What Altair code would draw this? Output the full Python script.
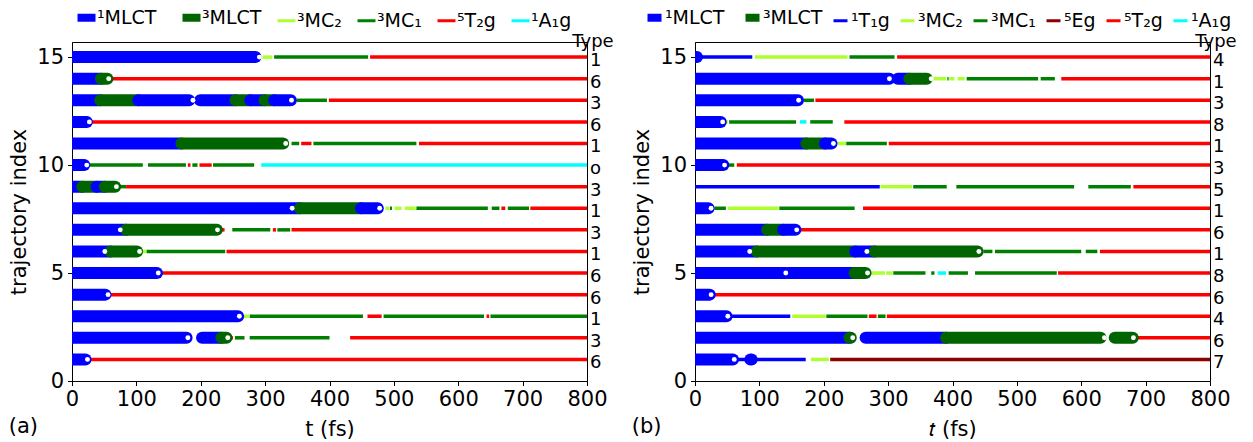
import altair as alt
import pandas as pd

# electronic state codes -> legend label / colour
LABEL = {"1MLCT": "¹MLCT", "3MLCT": "³MLCT", "1T1g": "¹T₁g", "3MC2": "³MC₂",
         "3MC1": "³MC₁", "5Eg": "⁵Eg", "5T2g": "⁵T₂g", "1A1g": "¹A₁g"}
COLOR = {"1MLCT": "#0000ff", "3MLCT": "#006400", "1T1g": "#0000ff", "3MC2": "#adff2f",
         "3MC1": "#008000", "5Eg": "#8b0000", "5T2g": "#ff0000", "1A1g": "#00ffff"}
THICK = ["1MLCT", "3MLCT"]

STATES_A = ["1MLCT", "3MLCT", "3MC2", "3MC1", "5T2g", "1A1g"]
STATES_B = ["1MLCT", "3MLCT", "1T1g", "3MC2", "3MC1", "5Eg", "5T2g", "1A1g"]

# trajectory type, trajectories 1..15
TYPES_A = ["6", "3", "1", "6", "6", "1", "3", "1", "3", "o", "1", "6", "3", "6", "1"]
TYPES_B = ["7", "6", "4", "6", "8", "1", "6", "1", "5", "3", "1", "8", "3", "1", "4"]

# (state, t_start, t_end) in fs for every trajectory
SEG_A = {
    15: [("1MLCT", 0, 285), ("3MC2", 296, 311), ("3MC1", 314, 460), ("5T2g", 463, 800)],
    14: [("1MLCT", 0, 45), ("3MLCT", 45, 55), ("5T2g", 55, 800)],
    13: [("1MLCT", 0, 44), ("3MLCT", 44, 103), ("1MLCT", 103, 182), ("1MLCT", 199, 254),
         ("3MLCT", 254, 277), ("1MLCT", 277, 299), ("3MLCT", 299, 314), ("1MLCT", 314, 340),
         ("3MC1", 349, 396), ("5T2g", 399, 800)],
    12: [("1MLCT", 0, 23), ("5T2g", 23, 800)],
    11: [("1MLCT", 0, 170), ("3MLCT", 170, 328), ("3MC1", 341, 353), ("5T2g", 356, 372),
         ("3MC1", 375, 535), ("5T2g", 539, 800)],
    10: [("1MLCT", 0, 19), ("3MC1", 27, 110), ("3MC1", 118, 177), ("5T2g", 180, 184),
         ("3MC1", 187, 195), ("5T2g", 198, 217), ("3MC1", 219, 283), ("1A1g", 294, 800)],
    9: [("1MLCT", 0, 16), ("3MLCT", 16, 38), ("1MLCT", 38, 51), ("3MLCT", 51, 67),
        ("3MC1", 67, 84), ("5T2g", 84, 800)],
    8: [("1MLCT", 0, 354), ("3MLCT", 354, 449), ("1MLCT", 449, 475), ("3MC2", 487, 493),
        ("3MC1", 494, 497), ("3MC2", 501, 512), ("3MC2", 517, 534), ("3MC1", 535, 646),
        ("3MC1", 652, 664), ("5T2g", 667, 673), ("3MC1", 677, 710), ("5T2g", 712, 800)],
    7: [("1MLCT", 0, 84), ("3MLCT", 84, 225), ("5T2g", 225, 237), ("3MC1", 249, 308),
        ("5T2g", 312, 317), ("3MC1", 319, 339), ("5T2g", 341, 800)],
    6: [("1MLCT", 0, 60), ("3MLCT", 60, 101), ("3MC2", 105, 116), ("3MC1", 116, 238),
        ("5T2g", 240, 800)],
    5: [("1MLCT", 0, 132), ("5T2g", 132, 800)],
    4: [("1MLCT", 0, 52), ("5T2g", 52, 800)],
    3: [("1MLCT", 0, 258), ("3MC2", 263, 275), ("3MC1", 276, 452), ("5T2g", 459, 481),
        ("3MC1", 484, 640), ("5T2g", 644, 648), ("3MC1", 650, 800)],
    2: [("1MLCT", 0, 178), ("1MLCT", 202, 232), ("3MLCT", 232, 240), ("5T2g", 242, 250),
        ("3MC1", 253, 268), ("3MC1", 276, 400), ("5T2g", 432, 800)],
    1: [("1MLCT", 0, 21), ("5T2g", 21, 800)],
}
# hopping points marked with a white dot
HOP_A = {15: [291], 14: [57], 13: [188, 341], 12: [27], 11: [332], 10: [23], 9: [69],
         8: [342, 478], 7: [75, 226], 6: [51, 105], 5: [134], 4: [56], 3: [260],
         2: [180, 242], 1: [24]}

SEG_B = {
    15: [("1MLCT", 1, 3), ("1T1g", 2, 89), ("3MC2", 93, 237), ("3MC1", 240, 310), ("5T2g", 314, 800)],
    14: [("1MLCT", 0, 302), ("1MLCT", 315, 333), ("3MLCT", 333, 360), ("3MC2", 369, 390),
         ("3MC1", 392, 394), ("3MC2", 395, 403), ("3MC2", 408, 419), ("3MC1", 422, 533),
         ("3MC1", 537, 559), ("5T2g", 569, 800)],
    13: [("1MLCT", 0, 160), ("3MC1", 169, 185), ("5T2g", 187, 800)],
    12: [("1MLCT", 0, 40), ("3MC2", 42, 51), ("3MC1", 53, 157), ("1A1g", 163, 173),
         ("3MC1", 179, 214), ("5T2g", 232, 800)],
    11: [("1MLCT", 0, 173), ("3MLCT", 173, 202), ("1MLCT", 202, 212), ("3MC2", 221, 235),
         ("3MC1", 235, 298), ("5T2g", 301, 800)],
    10: [("1MLCT", 0, 44), ("3MC1", 46, 61), ("5T2g", 65, 800)],
    9: [("1T1g", 0, 287), ("3MC2", 288, 337), ("3MC1", 339, 391), ("3MC1", 406, 589),
        ("3MC1", 611, 677), ("5T2g", 681, 800)],
    8: [("1MLCT", 0, 21), ("3MC1", 30, 48), ("3MC2", 51, 130), ("3MC1", 131, 248), ("5T2g", 261, 800)],
    7: [("1MLCT", 0, 112), ("3MLCT", 112, 137), ("1MLCT", 137, 156), ("5T2g", 156, 800)],
    6: [("1MLCT", 0, 96), ("3MLCT", 96, 249), ("1MLCT", 249, 279), ("3MLCT", 279, 439),
        ("3MC1", 448, 462), ("3MC1", 466, 600), ("3MC1", 607, 625), ("5T2g", 629, 800)],
    5: [("1MLCT", 0, 141), ("1MLCT", 145, 248), ("3MLCT", 248, 265), ("3MC2", 274, 295),
        ("3MC2", 297, 307), ("3MC1", 308, 358), ("3MC1", 367, 372), ("1A1g", 377, 390),
        ("3MC1", 394, 424), ("3MC1", 435, 562), ("5T2g", 564, 800)],
    4: [("1MLCT", 0, 23), ("5T2g", 23, 800)],
    3: [("1MLCT", 0, 49), ("1T1g", 54, 148), ("3MC2", 151, 203), ("3MC1", 204, 268),
        ("5T2g", 270, 282), ("3MC1", 284, 296), ("5T2g", 298, 800)],
    2: [("1MLCT", 0, 240), ("3MLCT", 240, 242), ("1MLCT", 265, 390), ("3MLCT", 390, 630),
        ("3MLCT", 652, 680), ("5T2g", 682, 800)],
    1: [("1MLCT", 0, 59), ("1T1g", 58, 172), ("1MLCT", 86, 88), ("3MC2", 180, 208), ("5Eg", 210, 800)],
}
HOP_B = {14: [302, 367], 13: [161], 12: [43], 11: [215], 10: [46], 8: [25], 7: [158],
         6: [85, 267, 441], 5: [141, 268], 4: [25], 3: [51], 2: [245, 636, 681], 1: [61]}

T_MAX = 800
Y_MAX = 15.7
FONT = "DejaVu Sans"
AX_FS = 21      # axis labels / titles
LEG_FS = 19     # legend labels
TYPE_FS = 18    # trajectory type column


def panel(segs, hops, types, codes, xtitle, tag, leg_x, sym_size, lab_off, col_pad):
    seg_df = pd.DataFrame([
        {"traj": k, "state": LABEL[c], "t0": a, "t1": b, "thick": c in THICK}
        for k, v in segs.items() for c, a, b in v
    ])
    dot_df = pd.DataFrame([{"traj": k, "t": t} for k, ts in hops.items() for t in ts])
    typ_df = pd.DataFrame({"traj": list(range(1, 16)), "type": types, "edge": T_MAX})
    head_df = pd.DataFrame({"traj": [Y_MAX], "type": ["Type"], "edge": [T_MAX]})

    xs = alt.Scale(domain=[0, T_MAX], nice=False, zero=False)
    ys = alt.Scale(domain=[0, Y_MAX], nice=False, zero=False)
    xa = alt.Axis(title=xtitle, values=list(range(0, T_MAX + 1, 100)), labelFlush=False)
    ya = alt.Axis(title="trajectory index", values=[0, 5, 10, 15], labelFlush=False)

    def X(f):
        return alt.X(f"{f}:Q", scale=xs, axis=xa)

    def Y(f):
        return alt.Y(f"{f}:Q", scale=ys, axis=ya)

    # legend handles: thick bars for the MLCT states, thin lines for the rest
    thick_test = " || ".join(f"datum.value == '{LABEL[c]}'" for c in THICK)
    legend = alt.Legend(
        title=None, orient="none", legendX=leg_x, legendY=-34, direction="horizontal",
        columns=len(codes), symbolType="stroke", symbolSize=sym_size,
        symbolStrokeWidth=alt.ExprRef(expr=f"({thick_test}) ? 8 : 3"),
        labelFontSize=LEG_FS, labelFont=FONT, labelColor="black", labelOffset=lab_off,
        columnPadding=col_pad, padding=0,
    )
    color = alt.Color("state:N",
                      scale=alt.Scale(domain=[LABEL[c] for c in codes],
                                      range=[COLOR[c] for c in codes]),
                      legend=legend)

    base = alt.Chart(seg_df)
    thin = base.transform_filter("!datum.thick").mark_rule(clip=True).encode(
        x=X("t0"), x2="t1:Q", y=Y("traj"), color=color, strokeWidth=alt.value(3.5))
    thick = base.transform_filter("datum.thick").mark_rule(strokeCap="round", clip=True).encode(
        x=X("t0"), x2="t1:Q", y=Y("traj"), color=color, strokeWidth=alt.value(12))
    dots = alt.Chart(dot_df).mark_circle(color="white", size=24, opacity=1).encode(
        x=X("t"), y=Y("traj"))
    typ = alt.Chart(typ_df).mark_text(
        align="left", baseline="middle", dx=3, dy=4, fontSize=TYPE_FS, font=FONT, color="black"
    ).encode(x=X("edge"), y=Y("traj"), text="type:N")
    head = alt.Chart(head_df).mark_text(
        align="center", baseline="alphabetic", dx=6, dy=5, fontSize=TYPE_FS, font=FONT,
        color="black"
    ).encode(x=X("edge"), y=Y("traj"), text="type:N")

    return alt.layer(thin, thick, dots, typ, head).properties(
        width=515, height=339,
        title=alt.TitleParams(tag, orient="bottom", anchor="start", frame="bounds",
                              offset=-24, fontSize=AX_FS, fontWeight="normal", font=FONT,
                              color="black"),
    )


pa = panel(SEG_A, HOP_A, TYPES_A, STATES_A, "t (fs)", "(a)", 5, 324, 1, 9)
pb = panel(SEG_B, HOP_B, TYPES_B, STATES_B, "𝑡 (fs)", "(b)", -50, 196, 1, 4)

chart = alt.hconcat(pa, pb, spacing=16).resolve_scale(color="independent").properties(
    padding={"left": 8, "top": 7, "right": 0, "bottom": 0}
).configure(font=FONT).configure_axis(
    labelFontSize=AX_FS, titleFontSize=AX_FS, titleFontWeight="normal", labelFont=FONT,
    titleFont=FONT, labelColor="black", titleColor="black", tickColor="black",
    domainColor="black", grid=False, tickSize=4.5,
).configure_axisX(labelPadding=3, titlePadding=9).configure_axisY(
    labelPadding=4, titlePadding=7
).configure_view(stroke="black", strokeWidth=1)

chart.save("out.html", embed_options={"renderer": "svg", "actions": False})
